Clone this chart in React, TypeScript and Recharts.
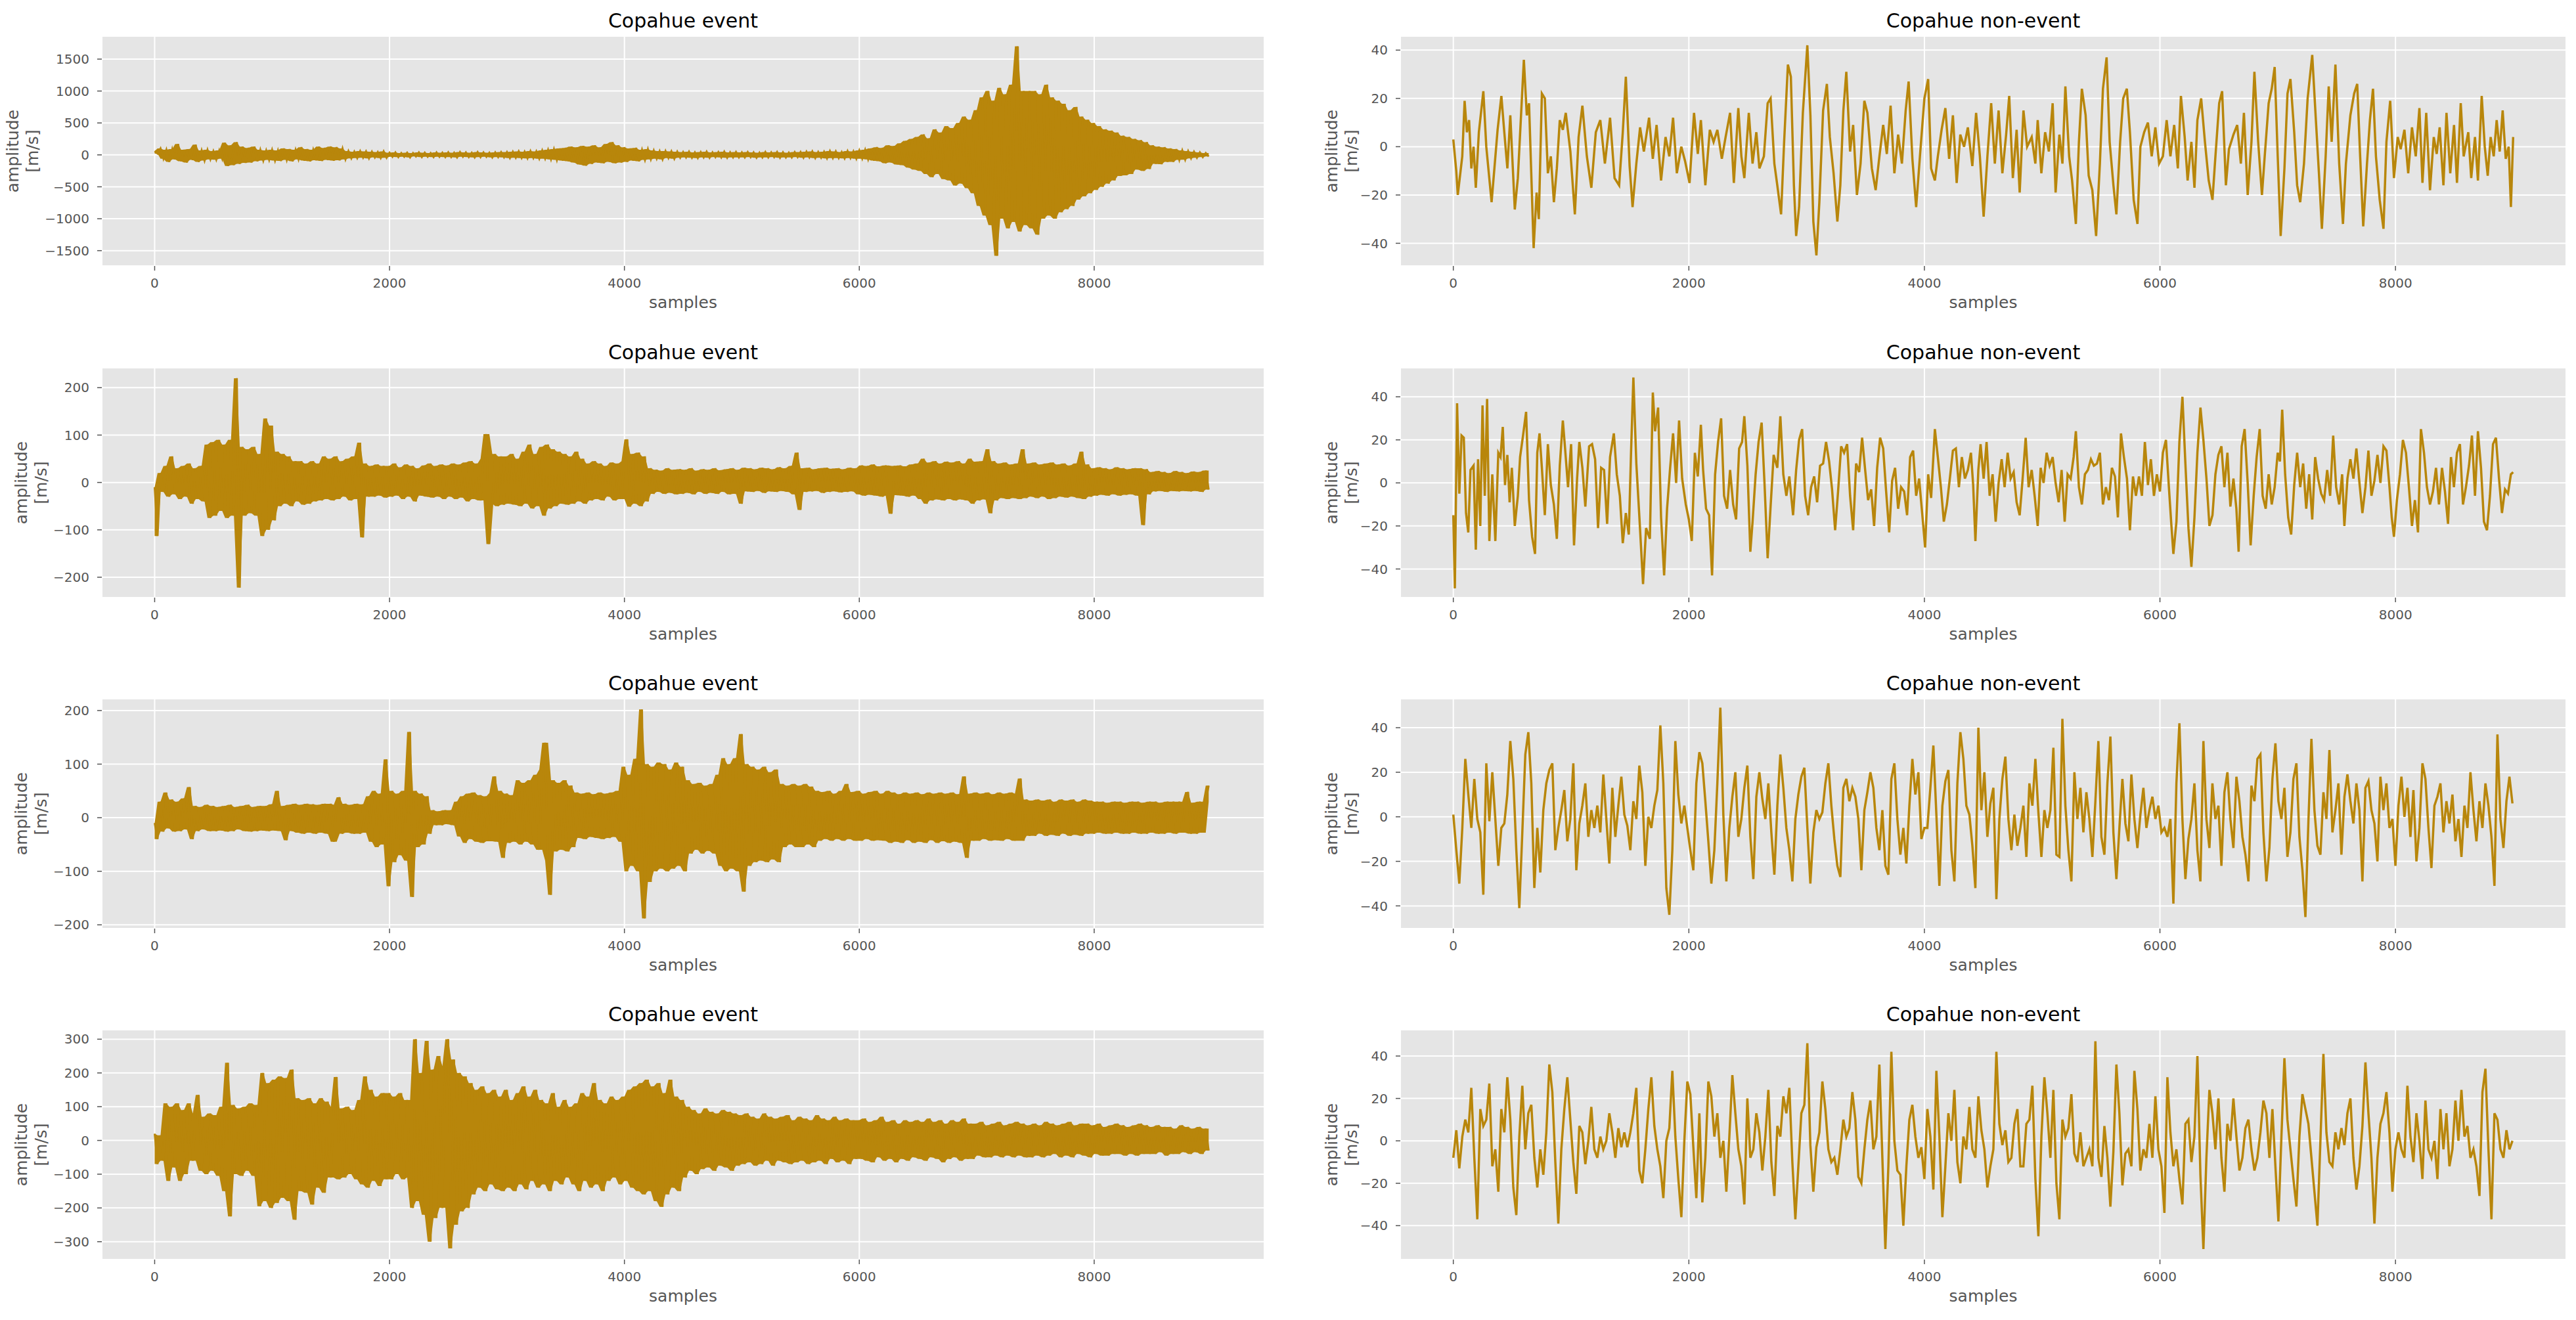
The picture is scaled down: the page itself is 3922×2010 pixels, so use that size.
import React from 'react';
import { ComposedChart, Line, Area, XAxis, YAxis, CartesianGrid } from 'recharts';

// ---------- tick labels / titles ----------
const X_TICKS = [0, 2000, 4000, 6000, 8000];
const TICKS_L1 = [-1500, -1000, -500, 0, 500, 1000, 1500];
const TICKS_L23 = [-200, -100, 0, 100, 200];
const TICKS_L4 = [-300, -200, -100, 0, 100, 200, 300];
const TICKS_R = [-40, -20, 0, 20, 40];
const TITLE_EVENT = 'Copahue event';
const TITLE_NON = 'Copahue non-event';

// ---------- event traces: successive local max/min every 25 samples ----------
const EVENT_STEP = 25;
const event1 = [
  60, 20, 100, -60, 80, -110, 90, -70, 170, -100, 80, -120, 90, -80, 160, -110, 70, -90, 80, -70,
  60, -75, 70, -60, 190, -175, 150, -160, 200, -140, 130, -125, 110, -120, 130, -100, 80, -90, 70, -80,
  80, -90, 70, -95, 100, -80, 90, -100, 80, -70, 120, -90, 90, -100, 80, -85, 130, -95, 110, -80,
  130, -90, 120, -85, 100, -70, 60, -55, 50, -50, 60, -45, 55, -55, 50, -40, 45, -50, 55, -45,
  35, -30, 40, -35, 30, -30, 35, -40, 30, -25, 40, -35, 35, -30, 30, -35, 40, -30, 35, -35,
  40, -35, 35, -40, 45, -30, 40, -35, 35, -40, 45, -35, 40, -30, 35, -40, 40, -35, 45, -40,
  45, -50, 50, -45, 55, -50, 50, -55, 60, -50, 55, -60, 70, -60, 80, -70, 90, -80, 100, -90,
  110, -100, 130, -120, 120, -150, 140, -170, 130, -140, 150, -120, 120, -130, 170, -110, 200, -130, 150, -120,
  120, -110, 100, -90, 110, -100, 80, -80, 90, -70, 70, -60, 60, -70, 60, -50, 55, -60, 50, -45,
  45, -40, 50, -45, 40, -50, 45, -40, 50, -45, 40, -35, 45, -40, 50, -45, 40, -40, 45, -40,
  40, -40, 45, -35, 40, -45, 35, -40, 45, -40, 40, -35, 45, -45, 40, -40, 35, -40, 45, -35,
  45, -45, 50, -40, 55, -50, 45, -45, 50, -55, 60, -50, 55, -50, 45, -55, 60, -50, 55, -60,
  70, -60, 80, -70, 100, -90, 120, -100, 110, -130, 150, -120, 140, -150, 180, -160, 220, -200, 250, -230,
  280, -250, 320, -300, 260, -350, 400, -300, 350, -380, 450, -400, 420, -480, 500, -450, 600, -520, 550, -600,
  700, -800, 900, -950, 1000, -1100, 850, -1580, 1050, -1000, 950, -1150, 1100, -1050, 1700, -1200, 1000, -1100, 1000, -1150,
  1000, -1250, 950, -1000, 1100, -950, 900, -1000, 850, -900, 800, -850, 700, -800, 750, -700, 600, -650, 550, -600,
  500, -550, 450, -500, 400, -450, 380, -400, 350, -330, 300, -320, 280, -300, 250, -230, 230, -250, 200, -220,
  150, -140, 130, -145, 120, -110, 100, -110, 90, -80, 70, -75, 60, -55, 50, -45, 40, -35, 30, -25,
];
const event2 = [
  -10, -113, 20, -20, 35, -30, 55, -25, 30, -35, 35, -30, 40, -45, 30, -35, 35, -40, 80, -75,
  85, -70, 90, -60, 80, -75, 90, -70, 220, -222, 75, -70, 70, -65, 75, -70, 60, -113, 135, -100,
  120, -80, 65, -50, 60, -45, 55, -50, 45, -40, 45, -47, 40, -45, 45, -40, 40, -38, 55, -35,
  50, -38, 55, -35, 45, -30, 50, -38, 55, -35, 84, -116, 40, -30, 35, -30, 38, -28, 35, -32,
  35, -30, 40, -28, 32, -35, 38, -30, 35, -40, 30, -28, 36, -30, 40, -32, 35, -30, 38, -35,
  36, -30, 40, -35, 38, -32, 42, -40, 45, -35, 40, -38, 50, 102, -130, -45, 60, -50, 55, -47,
  55, -45, 60, -47, 50, -50, 65, -45, 80, -55, 60, -50, 75, -70, 80, -55, 70, -50, 65, -45,
  60, -47, 55, -45, 65, -40, 50, -45, 40, -38, 45, -35, 40, -38, 35, -30, 42, -38, 40, -35,
  45, 91, -51, 60, -45, 63, -50, 55, -40, 30, -24, 27, -20, 25, -24, 30, -22, 27, -25, 28,
  -24, 27, -22, 30, -25, 25, -20, 28, -24, 27, -22, 30, -24, 26, -20, 28, -25, 30, -24, 27,
  -45, 31, -19, 30, -20, 28, -18, 31, -22, 30, -19, 28, -20, 32, -18, 30, -20, 35, -25, 63,
  -58, 30, -20, 31, -19, 28, -18, 30, -22, 31, -20, 29, -19, 30, -21, 28, -20, 31, -19, 30,
  -25, 36, -28, 35, -26, 38, -28, 34, -30, 36, -28, -66, 35, -27, 36, -28, 34, -30, 38, -28,
  40, -35, 50, -45, 42, -38, 45, -36, 40, -38, 44, -35, 42, -38, 45, -36, 40, -38, 50, -45,
  44, -38, 45, -36, 70, -65, 45, -38, 40, -33, 42, -35, 38, -33, 40, -35, 70, -33, 40, -30,
  42, -33, 38, -30, 40, -35, 42, -33, 38, -30, 40, -32, 36, -30, 40, -33, 65, -35, 38, -30,
  30, -28, 32, -26, 30, -28, 28, -25, 32, -28, 30, -26, 28, -25, 30, -28, 30, -90, 28, -25,
  22, -19, 24, -18, 22, -20, 20, -18, 24, -19, 22, -18, 20, -19, 23, -18, 22, -20, 25, -15,
];
const event3 = [
  -10, -40, 30, -26, 47, -20, 34, -26, 30, -25, 36, -22, 57, -40, 22, -25, 20, -22, 24, -25,
  22, -25, 20, -24, 22, -26, 24, -25, 20, -22, 22, -25, 24, -26, 20, -25, 22, -24, 22, -25,
  25, -24, 50, -25, 22, -42, 24, -25, 26, -28, 24, -30, 26, -28, 25, -30, 24, -28, 26, -30,
  26, -45, 24, 38, -30, 26, -28, 24, -30, 26, -30, 25, -28, 40, -45, 50, -55, 45, -50, 109,
  -128, 50, -83, 45, -70, 50, -80, 160, -148, 50, -55, 45, -50, 40, -30, 14, -14, 12, -14, 14,
  -12, 14, -14, 30, -35, 40, -47, 45, -40, 47, -45, 42, -47, 40, -44, 46, 77, -45, 50, -75,
  45, -47, 42, -45, 70, -50, 65, -45, 70, -50, 80, -60, 90, 140, -80, -144, 70, -63, 65, -60,
  70, -63, 60, -55, 47, -38, 45, -40, 47, -36, 44, -38, 47, -40, 45, -38, 47, -36, 50, -45,
  95, -100, 80, -90, 110, -100, 202, -188, 100, -120, 95, -100, 103, -95, 100, -100, 90, -95, 103, -90,
  95, -100, 70, -67, 63, -60, 65, -67, 60, -62, 63, -67, 80, -90, 111, -100, 100, -95, 111, -100,
  156, -138, 100, -90, 95, -83, 90, -80, 95, -83, 85, -78, 90, -83, 63, -55, 60, -50, 63, -55,
  60, -55, 63, -50, 58, -55, 50, -43, 48, -40, 50, -43, 45, -40, 50, -43, 63, -40, 48, -43,
  50, -43, 45, -40, 48, -43, 50, -42, 45, -43, 50, -47, 47, -45, 44, -47, 47, -42, 45, -47,
  47, -45, 44, -47, 47, -42, 45, -47, 47, -44, 45, -47, 47, -45, 44, -47, 77, -75, 45, -43,
  47, -43, 45, -40, 47, -43, 44, -42, 47, -43, 45, -40, 47, -43, 45, 73, -43, 34, -34, 32,
  -34, 34, -30, 32, -34, 34, -32, 30, -34, 34, -30, 32, -34, 34, -32, 30, -34, 34, -30, 32,
  -30, 30, -28, 30, -30, 28, -30, 30, -28, 30, -30, 28, -30, 30, -28, 30, -30, 28, -30, 30,
  -28, 30, -30, 28, -30, 30, -28, 30, -30, 30, -28, 30, 48, -30, 28, -30, 30, -28, 30, 60,
];
const event4 = [
  20, -70, 15, -60, 110, -120, 100, -80, 110, -120, 90, -100, 110, -60, 80, 135, -90, 70, -100, 80,
  -90, 75, -105, 100, -150, 230, -225, 105, -100, 95, -105, 100, -90, 110, -105, 105, -195, 200, -180, 170,
  -200, 180, -185, 190, -170, 185, -180, 210, -235, 125, -150, 120, -155, 125, -190, 110, -140, 125, -155, 115,
  -110, 100, 188, -115, 95, -110, 100, -100, 90, -115, 120, -130, 190, -140, 150, -120, 130, -135, 140, -115,
  140, -115, 130, -100, 140, -115, 120, -110, -200, 300, -180, 200, -220, 295, -300, 210, -230, 250, -200, 220,
  300, -320, 240, -250, 200, -210, 190, -200, 170, -160, 150, -140, 160, -150, 140, -130, 150, -145, 130, -150,
  150, -140, 120, -150, 140, -130, 160, -145, 130, -120, 150, -140, 120, -130, 110, -150, 140, -120, 100, -130,
  120, -110, 100, -130, 110, -150, 140, -120, 130, -140, 170, -130, 120, -150, 110, -120, 130, -110, 120, -130,
  130, -120, 150, -140, 160, -150, 170, -160, 180, -150, 160, -180, 170, -197, 140, -160, 180, -140, 130, -150,
  120, -110, 100, -90, 90, -100, 80, -85, 95, -80, 85, -90, 80, -75, 90, -80, 85, -90, 80, -75,
  75, -70, 80, -65, 70, -75, 65, -70, 80, -60, 70, -75, 65, -60, 70, -65, 75, -70, 60, -65,
  70, -60, 65, -70, 60, -65, 75, -60, 65, -70, 60, -55, 70, -65, 60, -60, 65, -70, 60, -55,
  60, -55, 65, -60, 55, -65, 60, -50, 70, -60, 55, -55, 60, -65, 50, -55, 60, -60, 55, -50,
  60, -55, 55, -60, 65, -50, 55, -55, 60, -65, 50, -55, 60, -50, 55, -60, 65, -55, 50, -55,
  50, -45, 55, -50, 45, -50, 50, -45, 55, -50, 45, -45, 50, -50, 55, -45, 50, -50, 45, -50,
  50, -45, 45, -50, 55, -45, 50, -40, 45, -50, 50, -45, 55, -50, 45, -40, 50, -45, 50, -50,
  45, -40, 50, -45, 40, -45, 45, -40, 50, -40, 45, -45, 40, -40, 45, -45, 50, -40, 45, -40,
  40, -40, 45, -35, 40, -45, 40, -40, 35, -40, 45, -35, 40, -40, 35, -35, 40, -40, 35, -30,
];

// ---------- non-event traces: [sample, amplitude] turning points ----------
const nonEvent1: [number, number][] = [[0,3],[25,-10],[38,-20],[76,-4],[96,19],[115,6],[134,11],[153,-9],[172,0],[191,-17],[217,6],[255,23],[280,0],[325,-23],[376,7],[408,21],[433,6],[459,-9],[484,13],[522,-26],[548,-13],[573,11],[599,36],[624,13],[643,18],[682,-42],[707,-19],[726,-30],[752,22],[777,20],[803,-11],[828,-4],[854,-23],[879,-9],[904,11],[930,7],[955,14],[994,-2],[1032,-28],[1064,4],[1096,17],[1134,-4],[1172,-17],[1210,6],[1248,11],[1287,-7],[1331,12],[1369,-13],[1408,-16],[1439,6],[1465,29],[1497,-8],[1522,-25],[1554,-7],[1586,8],[1618,-2],[1662,12],[1694,-5],[1726,9],[1764,-14],[1802,4],[1834,-4],[1866,12],[1898,-11],[1936,0],[1968,-6],[2006,-15],[2044,14],[2076,-3],[2102,11],[2140,-16],[2178,7],[2210,2],[2242,7],[2280,-5],[2312,4],[2350,14],[2382,-15],[2420,16],[2446,-4],[2471,-13],[2509,14],[2541,-7],[2573,6],[2599,-9],[2637,-4],[2669,18],[2694,20],[2726,-7],[2751,-16],[2783,-28],[2809,2],[2841,34],[2866,29],[2892,-16],[2911,-37],[2936,-25],[2968,14],[3006,42],[3032,13],[3057,-31],[3083,-45],[3108,-23],[3140,15],[3172,26],[3197,4],[3229,-11],[3261,-31],[3286,-16],[3312,15],[3337,31],[3369,-2],[3395,9],[3427,-20],[3458,-7],[3490,19],[3516,14],[3554,-9],[3586,-18],[3618,-4],[3650,9],[3681,-3],[3713,17],[3745,-11],[3777,5],[3809,-7],[3841,15],[3866,27],[3898,-5],[3930,-25],[3962,-4],[4000,20],[4032,28],[4057,-9],[4089,-14],[4114,-4],[4146,7],[4178,16],[4210,-5],[4242,13],[4274,-15],[4305,5],[4337,0],[4369,8],[4407,-8],[4439,14],[4471,-4],[4503,-29],[4535,-4],[4567,18],[4598,-7],[4630,15],[4662,-11],[4694,5],[4720,21],[4751,-13],[4783,7],[4809,-19],[4841,15],[4872,0],[4911,4],[4942,-7],[4962,11],[4993,-11],[5025,6],[5057,-2],[5089,18],[5114,-19],[5146,5],[5172,-7],[5197,25],[5229,-4],[5254,-14],[5286,-32],[5312,2],[5337,24],[5369,13],[5395,-12],[5426,-18],[5458,-37],[5490,-7],[5516,24],[5547,37],[5573,2],[5605,-16],[5630,-28],[5662,2],[5688,20],[5719,24],[5745,6],[5777,-22],[5809,-32],[5834,0],[5866,6],[5898,10],[5930,-4],[5961,8],[5993,-7],[6025,-4],[6057,11],[6089,-4],[6121,9],[6152,-9],[6178,21],[6210,4],[6235,-14],[6267,2],[6293,-17],[6318,11],[6350,20],[6382,2],[6414,-14],[6446,-22],[6471,-4],[6503,18],[6528,23],[6560,-16],[6586,-1],[6624,5],[6656,9],[6687,-7],[6713,14],[6745,-20],[6777,2],[6802,31],[6834,2],[6866,-20],[6891,-3],[6923,18],[6949,24],[6974,33],[7000,-4],[7025,-37],[7057,-9],[7083,22],[7108,28],[7140,6],[7165,-16],[7191,-23],[7223,-7],[7254,20],[7293,38],[7324,11],[7350,-11],[7375,-34],[7407,-4],[7433,25],[7458,2],[7490,34],[7522,-7],[7554,-32],[7579,-7],[7617,13],[7649,22],[7675,26],[7700,-4],[7726,-33],[7758,-7],[7783,11],[7809,24],[7834,-4],[7866,-22],[7898,-34],[7923,2],[7955,19],[7987,-13],[8019,4],[8044,-1],[8076,7],[8108,-11],[8140,8],[8172,-4],[8203,16],[8229,-15],[8261,14],[8293,-18],[8325,4],[8350,-3],[8375,8],[8407,-16],[8433,14],[8465,-11],[8497,9],[8522,-15],[8554,18],[8579,-4],[8618,6],[8643,-13],[8675,4],[8700,-14],[8732,21],[8758,0],[8783,-12],[8808,4],[8834,-4],[8859,11],[8885,-2],[8910,15],[8936,-5],[8961,0],[8980,-25],[8999,4]];

const nonEvent2: [number, number][] = [[0,-15],[13,-49],[32,37],[51,-5],[70,22],[89,21],[108,-14],[127,-23],[146,6],[172,8],[191,-31],[210,11],[229,-20],[248,36],[267,-6],[287,39],[306,-27],[331,4],[357,-27],[382,14],[401,12],[420,26],[439,-1],[459,13],[478,-9],[497,7],[522,-20],[548,-6],[567,12],[592,22],[618,33],[643,-8],[669,-25],[694,-33],[713,14],[732,23],[752,7],[777,-15],[803,18],[828,-1],[854,-10],[879,-26],[904,8],[930,29],[949,16],[974,-2],[1000,18],[1025,-29],[1051,2],[1070,19],[1096,7],[1121,-11],[1153,17],[1178,18],[1204,11],[1229,-21],[1255,7],[1280,6],[1306,-19],[1331,12],[1363,23],[1388,4],[1414,-6],[1439,-28],[1465,-14],[1490,-24],[1509,14],[1529,49],[1554,9],[1580,-16],[1611,-47],[1637,-21],[1669,-26],[1694,42],[1713,24],[1739,35],[1764,-16],[1790,-43],[1815,-12],[1841,7],[1866,23],[1892,0],[1917,29],[1943,2],[1974,-10],[2000,-17],[2025,-27],[2051,14],[2076,3],[2102,27],[2121,6],[2146,-12],[2172,-15],[2197,-43],[2223,4],[2248,19],[2274,30],[2299,-6],[2325,-12],[2350,6],[2376,-10],[2401,-17],[2427,16],[2452,19],[2471,31],[2497,8],[2522,-32],[2541,-18],[2567,4],[2592,19],[2618,28],[2643,-1],[2669,-35],[2694,-11],[2720,13],[2751,7],[2777,31],[2802,4],[2828,-6],[2853,3],[2885,-15],[2911,6],[2936,20],[2962,25],[2987,-6],[3013,-15],[3038,-2],[3064,3],[3089,-9],[3114,8],[3140,9],[3165,19],[3191,10],[3216,-3],[3242,-22],[3267,-4],[3293,17],[3318,14],[3344,18],[3369,-6],[3395,-22],[3420,9],[3446,5],[3471,21],[3497,6],[3522,-8],[3548,-3],[3573,-20],[3599,7],[3624,21],[3650,16],[3675,-4],[3701,-23],[3726,1],[3751,7],[3777,-12],[3802,-2],[3828,-4],[3853,-15],[3879,12],[3904,15],[3930,-6],[3955,2],[3981,-14],[4006,-30],[4032,4],[4057,-7],[4089,25],[4114,12],[4140,-2],[4165,-18],[4191,-10],[4216,2],[4242,15],[4267,16],[4293,-2],[4318,12],[4344,2],[4369,6],[4395,14],[4414,-1],[4433,-27],[4458,6],[4477,18],[4503,2],[4528,19],[4554,-6],[4579,4],[4605,-18],[4630,0],[4656,11],[4681,-2],[4707,14],[4732,2],[4758,5],[4783,-9],[4809,-15],[4834,2],[4860,21],[4885,-2],[4911,6],[4936,-6],[4962,-20],[4987,7],[5012,0],[5038,14],[5063,8],[5089,12],[5114,0],[5140,-9],[5165,6],[5191,-18],[5216,4],[5242,2],[5267,12],[5286,24],[5312,-2],[5337,-10],[5363,4],[5388,6],[5414,11],[5439,8],[5465,9],[5490,14],[5516,-10],[5541,-2],[5567,-8],[5592,7],[5618,3],[5643,-16],[5669,23],[5694,12],[5720,2],[5745,-22],[5771,3],[5796,-6],[5822,3],[5847,-6],[5872,19],[5898,-1],[5923,11],[5949,-6],[5974,4],[6000,-4],[6025,14],[6051,20],[6076,-2],[6095,-18],[6114,-33],[6140,-18],[6165,19],[6191,40],[6216,9],[6242,-21],[6267,-39],[6293,-16],[6318,14],[6344,35],[6369,20],[6395,2],[6420,-20],[6446,-15],[6471,4],[6496,13],[6522,17],[6547,-2],[6573,14],[6598,-11],[6624,2],[6649,-12],[6668,-32],[6694,17],[6719,25],[6745,0],[6770,-29],[6796,-6],[6821,12],[6847,25],[6872,-6],[6898,-12],[6923,4],[6949,-10],[6974,-2],[7000,14],[7019,10],[7038,34],[7063,4],[7089,-16],[7114,-24],[7140,-1],[7165,14],[7191,-2],[7216,9],[7242,-12],[7267,4],[7293,-17],[7318,12],[7343,2],[7369,-5],[7394,-8],[7420,6],[7445,-6],[7471,22],[7496,-2],[7522,-10],[7547,4],[7566,-20],[7592,2],[7617,11],[7643,2],[7668,16],[7694,0],[7719,-14],[7745,-2],[7770,15],[7796,-6],[7821,1],[7847,13],[7872,0],[7898,17],[7923,15],[7949,-2],[7968,-16],[7987,-25],[8012,-8],[8038,4],[8063,20],[8089,14],[8114,-2],[8140,-20],[8165,-8],[8191,-23],[8216,25],[8242,14],[8267,-2],[8293,-10],[8318,-4],[8344,7],[8369,-10],[8395,7],[8420,-4],[8446,-19],[8471,12],[8496,-2],[8522,14],[8547,18],[8573,-10],[8598,-2],[8624,8],[8649,22],[8675,-6],[8700,24],[8726,7],[8751,-18],[8777,-22],[8802,-6],[8828,18],[8853,21],[8879,2],[8904,-14],[8930,-3],[8955,-5],[8980,4],[8999,5]];

// evenly spaced readings (one every ~25.5 samples)
const nonEvent3 = [
  1, -15, -30, -5, 26, 10, -5, 17, -1, -7, -35, 24, -2, 20, -1, -22, -5, -3, 10, 34,
  17, -15, -41, -7, 28, 38, 15, -32, -5, -25, 3, 15, 21, 24, -15, -5, 3, 12, -11, -1,
  24, -24, -3, 5, 15, -9, 3, -5, 5, -7, 19, -1, -21, 13, -9, 5, 18, 1, -4, -15,
  7, -1, 23, 11, -22, 0, -5, 5, 12, 41, 15, -32, -44, -15, 34, 10, -3, 5, -5, -15,
  -24, 15, 29, 24, 7, -11, -30, -15, 15, 49, 1, -29, -5, 9, 20, -9, -1, 13, 23, -9,
  -28, 9, 20, 8, -1, 15, -7, -26, 5, 28, 13, -5, -15, -29, -1, 10, 18, 22, -5, -30,
  -7, 3, -1, 2, 15, 24, 5, -10, -22, -27, 13, 17, 7, 13, 9, -1, -24, 3, 11, 20,
  13, -5, -15, 3, -22, -26, 17, 24, -1, -17, -5, -21, 5, 26, 10, 20, -10, -5, -5, 13,
  32, 1, -31, 5, 16, 21, -15, -29, 15, 38, 26, 5, 1, -13, -32, 40, 3, 20, -9, 6,
  13, -37, -1, 17, 27, -1, -15, 1, -13, -5, 5, -18, 15, 5, 26, 2, -18, 3, -5, 3,
  31, -17, -18, 44, 5, -15, -29, 20, -1, 13, -7, 11, -1, -18, 7, 34, -9, -17, 15, 36,
  -7, -28, -5, 17, -3, -11, 19, -1, -14, 1, 13, -5, 3, 9, -1, 5, -7, -5, -9, -1,
  -39, 15, 42, -1, -28, -10, -1, 15, -15, -29, 34, -1, -14, 15, -1, 5, -22, 11, 20, -1,
  -14, 18, 7, -9, -17, -29, 14, 7, 26, 28, -7, -29, -14, 17, 33, 7, -1, 13, -18, -7,
  17, 24, -9, -24, -45, -2, 35, 3, -13, -17, 11, -1, 30, -7, 3, 15, -17, 9, 19, 7,
  -3, 15, 3, -29, 13, 16, 3, -3, -20, 18, 3, 15, -5, -1, -22, 5, 18, 0, 13, -9,
  12, -20, -5, 24, 17, -5, -23, 5, 9, 15, -7, 7, -3, 10, -11, -1, -18, 5, -5, 20,
  3, -11, 7, -5, 15, 5, -9, -31, 37, -1, -14, 7, 18, 6,
];
const nonEvent4 = [
  -8, 5, -13, 2, 10, 4, 25, -8, -37, 15, 7, 10, 27, -12, -4, -24, 15, 4, 30, 10,
  -22, -35, 2, 26, -4, 13, 17, -8, -22, -4, -16, 4, 36, 23, -10, -39, -4, 15, 30, 10,
  -10, -25, 7, 4, -11, 0, 16, -4, -8, 2, -4, 0, 13, 4, -8, 6, -3, 4, -3, 4,
  13, 25, -14, -20, -4, 15, 30, 7, -4, -12, -27, 0, 6, 33, 2, -18, -36, 0, 28, 22,
  -3, -27, 13, -29, -8, 28, 21, 2, 13, -8, 0, -24, 2, 31, 13, -4, -12, -30, 20, -8,
  -4, 13, 4, -14, 2, 24, -10, -26, 7, 2, 21, 13, 25, -10, -37, -12, 13, 17, 46, -2,
  -24, -3, 4, 28, 15, -4, -10, -8, -16, -4, 10, 2, 6, 23, 10, -17, -20, -4, 10, 19,
  -4, 2, 36, -8, -51, -12, 42, 0, -14, -16, -40, -12, 10, 17, 2, -8, -3, -18, 15, 2,
  -23, 33, 2, -36, -12, 13, 0, 24, -10, -20, 2, -4, 16, -4, -8, 21, 5, -4, -22, -12,
  -4, 42, 8, -2, 5, -10, -8, 8, 15, -12, -12, 8, 10, 26, -18, -45, 2, 30, 13, -8,
  24, -20, -37, 10, 2, 6, 22, -6, -10, 4, -12, -8, -4, -12, 47, -8, -17, 7, -8, -31,
  -5, 36, 13, -21, -6, -4, -12, 33, 15, -14, -4, -8, 8, -8, 21, -4, -12, -34, 30, 4,
  -12, -4, -18, -30, 8, 10, -10, 2, 40, -16, -51, -8, 24, 13, -4, 20, -8, -24, 8, 0,
  20, 2, -14, -8, 6, 10, -4, -14, -8, 4, 19, 13, -8, 15, -12, -38, 2, 39, 10, -4,
  -18, -31, 2, 22, 15, 8, -8, -24, -40, 0, 41, 4, -10, -12, 4, -4, 6, -2, 13, 20,
  -8, -23, -12, 7, 37, 13, -8, -39, -8, 8, 13, 23, 4, -24, -4, 4, -4, -8, 26, 2,
  -10, 13, 0, -18, 19, -4, -8, 0, -18, 15, -4, 13, -12, -4, 19, 0, 24, 2, 7, -8,
  -4, -12, -26, 23, 34, -4, -37, 13, 10, -4, -8, 5, -4, 0,
];
const NON_LAST_SAMPLE = 8993;

// ---------- layout ----------
const FIG_W = 3922;
const FIG_H = 2010;
const COLS = [
  { left: 155, right: 1925 },
  { left: 2132, right: 3907 },
];
const ROW_TOPS = [55, 560, 1064, 1568];
const PLOT_H = 350;
const Y_AXIS_W = 150;
const X_AXIS_H = 45;
const LINE_COLOR = '#B8860B';
const TEXT_GRAY = '#555555';
const FONT = '"DejaVu Sans", Verdana, sans-serif';

type Row = { x: number; y: number; band?: [number, number] };

// dense event trace: the band swept between neighbouring extremes is filled,
// as the thousands of samples of the original trace fill it
const denseTrace = (vals: number[], step: number): Row[] =>
  vals.map((v, i) => {
    const a = vals[Math.max(i - 1, 0)];
    const b = vals[Math.min(i + 1, vals.length - 1)];
    let lo = Math.min(v, b);
    let hi = Math.max(v, b);
    if (lo > 0) lo = Math.min(lo, a);
    if (hi < 0) hi = Math.max(hi, a);
    return { x: i * step, y: v, band: [lo, hi] };
  });
const fromSteps = (vals: number[], step: number): Row[] => vals.map((v, i) => ({ x: i * step, y: v }));
const fromPairs = (pairs: [number, number][]): Row[] => pairs.map(([x, y]) => ({ x, y }));

const panels = [
  { row: 0, col: 0, title: TITLE_EVENT, dense: true, data: denseTrace(event1, EVENT_STEP), domain: [-1740, 1860], ticks: TICKS_L1, labelCx: 34 },
  { row: 0, col: 1, title: TITLE_NON, dense: false, data: fromPairs(nonEvent1), domain: [-49.4, 45.8], ticks: TICKS_R, labelCx: 2042 },
  { row: 1, col: 0, title: TITLE_EVENT, dense: true, data: denseTrace(event2, EVENT_STEP), domain: [-243, 242], ticks: TICKS_L23, labelCx: 47 },
  { row: 1, col: 1, title: TITLE_NON, dense: false, data: fromPairs(nonEvent2), domain: [-53.3, 53.5], ticks: TICKS_R, labelCx: 2042 },
  { row: 2, col: 0, title: TITLE_EVENT, dense: true, data: denseTrace(event3, EVENT_STEP), domain: [-207, 222], ticks: TICKS_L23, labelCx: 47 },
  { row: 2, col: 1, title: TITLE_NON, dense: false, data: fromSteps(nonEvent3, NON_LAST_SAMPLE / (nonEvent3.length - 1)), domain: [-50.2, 53], ticks: TICKS_R, labelCx: 2042 },
  { row: 3, col: 0, title: TITLE_EVENT, dense: true, data: denseTrace(event4, EVENT_STEP), domain: [-353, 328], ticks: TICKS_L4, labelCx: 47 },
  { row: 3, col: 1, title: TITLE_NON, dense: false, data: fromSteps(nonEvent4, NON_LAST_SAMPLE / (nonEvent4.length - 1)), domain: [-56, 52.4], ticks: TICKS_R, labelCx: 2042 },
];

const fmt = (v: number) => (v < 0 ? '\u2212' + Math.abs(v) : String(v));
const tickStyle = { fill: TEXT_GRAY, fontSize: 20, fontFamily: FONT };

function Panel({ p }: { p: (typeof panels)[number] }) {
  const col = COLS[p.col];
  const plotW = col.right - col.left;
  const top = ROW_TOPS[p.row];
  return (
    <div style={{ position: 'absolute', left: col.left - Y_AXIS_W, top, width: Y_AXIS_W + plotW, height: PLOT_H + X_AXIS_H }}>
      <ComposedChart width={Y_AXIS_W + plotW} height={PLOT_H + X_AXIS_H} data={p.data} margin={{ top: 0, right: 0, bottom: 0, left: 0 }}>
        <CartesianGrid stroke="#FFFFFF" strokeWidth={2} fill="#E5E5E5" fillOpacity={1} />
        <XAxis
          dataKey="x"
          type="number"
          domain={[-450, 9449]}
          allowDataOverflow
          ticks={X_TICKS}
          height={X_AXIS_H}
          tick={tickStyle}
          tickSize={7}
          tickMargin={12}
          axisLine={false}
          tickLine={{ stroke: TEXT_GRAY, strokeWidth: 1.5 }}
          interval={0}
        />
        <YAxis
          type="number"
          domain={p.domain as [number, number]}
          allowDataOverflow
          ticks={p.ticks}
          width={Y_AXIS_W}
          tick={tickStyle}
          tickFormatter={fmt}
          tickSize={7}
          tickMargin={12}
          axisLine={false}
          tickLine={{ stroke: TEXT_GRAY, strokeWidth: 1.5 }}
          interval={0}
        />
        {p.dense ? (
          <Area type="linear" dataKey="band" stroke="none" fill={LINE_COLOR} fillOpacity={1} dot={false} activeDot={false} isAnimationActive={false} />
        ) : null}
        <Line type="linear" dataKey="y" stroke={LINE_COLOR} strokeWidth={p.dense ? 3 : 3.5} dot={false} activeDot={false} isAnimationActive={false} />
      </ComposedChart>
    </div>
  );
}

export default function App() {
  return (
    <div style={{ position: 'absolute', left: 0, top: 0, width: FIG_W, height: FIG_H, background: '#FFFFFF', overflow: 'hidden' }}>
      {panels.map((p, i) => (
        <Panel key={i} p={p} />
      ))}
      <svg width={FIG_W} height={FIG_H} style={{ position: 'absolute', left: 0, top: 0, pointerEvents: 'none' }}>
        {panels.map((p, i) => {
          const col = COLS[p.col];
          const cx = (col.left + col.right) / 2;
          const top = ROW_TOPS[p.row];
          const cy = top + PLOT_H / 2;
          return (
            <g key={i} fontFamily={FONT}>
              <text x={cx} y={top - 24} textAnchor="middle" dominantBaseline="central" fontSize={30} fill="#000000">
                {p.title}
              </text>
              <text x={cx} y={top + PLOT_H + 55} textAnchor="middle" dominantBaseline="central" fontSize={25} fill={TEXT_GRAY}>
                samples
              </text>
              <text transform={`translate(${p.labelCx - 15},${cy}) rotate(-90)`} textAnchor="middle" dominantBaseline="central" fontSize={25} fill={TEXT_GRAY}>
                amplitude
              </text>
              <text transform={`translate(${p.labelCx + 15},${cy}) rotate(-90)`} textAnchor="middle" dominantBaseline="central" fontSize={25} fill={TEXT_GRAY}>
                [m/s]
              </text>
            </g>
          );
        })}
      </svg>
    </div>
  );
}
